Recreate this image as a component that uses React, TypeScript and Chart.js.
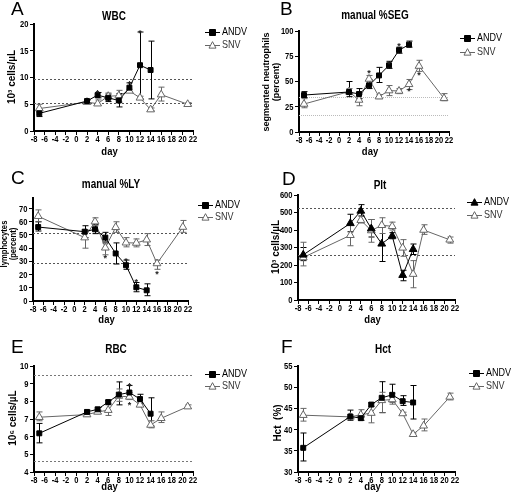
import { useEffect, useRef } from "react";
import { Chart, registerables } from "chart.js";
Chart.register(...registerables);

// ---------- shared ----------
const ANDV_DAYS = [-7, 2, 4, 6, 8, 10, 12, 14];
const SNV_DAYS = [-7, 2, 4, 6, 8, 10, 12, 14, 16, 21];
const X_TICKS = [-8, -6, -4, -2, 0, 2, 4, 6, 8, 10, 12, 14, 16, 18, 20, 22];

// ---------- A: WBC ----------
const WBC_Y_TICKS = [0, 5, 10, 15, 20];
const WBC_ANDV = [3.3, 5.6, 6.7, 6.2, 5.7, 8.1, 12.3, 11.4];
const WBC_ANDV_LO = [2.7, 5.3, 6.2, 5.5, 4.5, 7.3, 6.0, 6.0];
const WBC_ANDV_HI = [3.9, 5.9, 7.2, 6.9, 7.0, 9.0, 18.5, 16.8];
const WBC_SNV = [4.2, 5.4, 5.1, 6.5, 6.6, 7.5, 6.2, 4.0, 6.8, 5.0];
const WBC_SNV_LO = [3.5, 5.2, 4.8, 5.9, 5.4, 7.2, 6.0, 3.8, 5.6, 4.8];
const WBC_SNV_HI = [5.0, 5.7, 5.8, 7.1, 7.6, 7.8, 6.5, 4.3, 8.2, 5.3];
const WBC_REF = [9.7, 5.2];
const WBC_STARS = [[4, 7.4], [10, 9.1], [12, 18.6]];

// ---------- B: manual %SEG ----------
const SEG_Y_TICKS = [0, 25, 50, 75, 100];
const SEG_ANDV = [36.6, 39.6, 37.6, 46.2, 56, 66, 81, 86.5];
const SEG_ANDV_LO = [34, 35, 33, 43, 49, 63, 78, 84];
const SEG_ANDV_HI = [40, 50, 43, 52, 64, 70, 84, 90];
const SEG_SNV = [27.7, 40, 31.7, 52.5, 35, 41, 40.6, 47.2, 65.3, 33.3];
const SEG_SNV_LO = [24, 37, 26, 48, 33, 36, 38, 42, 60, 31];
const SEG_SNV_HI = [33, 43, 37, 56, 37, 46, 43, 52, 71, 38];
const SEG_REF = [34.6, 16.5];
const SEG_STARS = [[6, 59.5], [10, 68.5], [12, 87], [14, 42], [16, 57.5]];

// ---------- C: manual %LY ----------
const LY_Y_TICKS = [0, 10, 20, 30, 40, 50, 60, 70];
const LY_ANDV = [56, 52.5, 54.3, 48, 36, 27.1, 10.4, 8.1];
const LY_ANDV_LO = [53, 48, 51, 44, 28, 24, 7, 4];
const LY_ANDV_HI = [60, 57, 58, 52, 44, 31, 14, 13];
const LY_SNV = [64.2, 48, 60.1, 40.3, 55.8, 44.1, 43.9, 46.4, 28.4, 56];
const LY_SNV_LO = [60, 40, 57, 35, 52, 41, 41, 42, 24, 52];
const LY_SNV_HI = [69, 54, 63, 45, 60, 48, 47, 51, 31, 61];
const LY_REF = [51.5, 28.7];
const LY_STARS = [[6, 33.5], [10, 31.5], [12, 15.5], [16, 21.5]];

// ---------- D: Plt ----------
const PLT_Y_TICKS = [0, 100, 200, 300, 400, 500, 600];
const PLT_ANDV = [258, 438, 509, 408, 321, 366, 142, 290];
const PLT_ANDV_LO = [225, 390, 480, 360, 220, 350, 110, 260];
const PLT_ANDV_HI = [300, 490, 545, 460, 420, 385, 170, 320];
const PLT_SNV = [243, 370, 456, 397, 427, 421, 298, 148, 400, 344];
const PLT_SNV_LO = [195, 310, 440, 330, 380, 400, 250, 70, 375, 325];
const PLT_SNV_HI = [330, 430, 480, 460, 470, 445, 345, 225, 430, 360];
const PLT_REF = [524, 258];
const PLT_STARS: number[][] = [];

// ---------- E: RBC ----------
const RBC_Y_TICKS = [4, 5, 6, 7, 8, 9, 10];
const RBC_ANDV = [6.19, 7.4, 7.55, 7.96, 8.38, 8.5, 8.13, 7.3];
const RBC_ANDV_LO = [5.65, 7.3, 7.45, 7.85, 7.8, 8.2, 7.9, 6.6];
const RBC_ANDV_HI = [6.75, 7.5, 7.65, 8.05, 9.1, 8.9, 8.4, 8.2];
const RBC_SNV = [7.1, 7.25, 7.4, 7.5, 8.3, 8.25, 7.8, 6.66, 7.04, 7.7];
const RBC_SNV_LO = [6.9, 7.15, 7.3, 7.2, 8.0, 8.1, 7.7, 6.5, 6.8, 7.6];
const RBC_SNV_HI = [7.4, 7.35, 7.5, 7.8, 8.7, 8.5, 7.9, 6.9, 7.4, 7.8];
const RBC_REF = [9.47, 4.65];
const RBC_STARS = [[10, 8.95], [10, 7.85]];

// ---------- F: Hct ----------
const HCT_Y_TICKS = [30, 35, 40, 45, 50, 55];
const HCT_ANDV = [35.7, 43.1, 42.7, 45.9, 47.5, 48.2, 46.7, 46.4];
const HCT_ANDV_LO = [32.6, 42.2, 42.2, 45.5, 44, 46.5, 45.7, 42.5];
const HCT_ANDV_HI = [39.2, 44.6, 43.2, 46.3, 51.3, 50.7, 48, 50.4];
const HCT_SNV = [43.4, 43.0, 43.5, 43.9, 46.9, 47.1, 43.8, 38.9, 40.9, 47.7];
const HCT_SNV_LO = [42, 42.6, 42.8, 41.6, 44, 46, 43.5, 38.6, 39.7, 47];
const HCT_SNV_HI = [45, 43.4, 44.7, 46.3, 48.8, 48.6, 44.1, 39.2, 42.5, 48.6];
const HCT_REF: number[] = [];
const HCT_STARS: number[][] = [];

const FONT = "'Liberation Sans', Arial, Helvetica, sans-serif";
const SNV_COLOR = "#666666";

type PanelCfg = {
  left: number; top: number; w: number; h: number;
  area: { l: number; r: number; t: number; b: number };
  yMax: number;
  letter: string; letterX: number; letterY: number;
  title: string; titleX: number; titleY: number;
  yTitle: string[]; yTitleX: number[]; yTitleY: number; yTitleSize: number; yTitleScale: number;
  dayY: number;
  legX: number; legY: number[];
  yTicks: number[];
  andv: number[]; andvLo: number[]; andvHi: number[];
  snv: number[]; snvLo: number[]; snvHi: number[];
  refs: number[]; refColor: string; refDash: number[];
  stars: number[][];
  andvStyle: string;
};

const PANELS: PanelCfg[] = [
  {
    left: 0, top: 0, w: 256, h: 165, area: { l: 34, r: 193, t: 24, b: 131 }, yMax: 20,
    letter: "A", letterX: 11, letterY: 15, title: "WBC", titleX: 114, titleY: 17,
    yTitle: ["10\u00B3 cells/\u00B5L"], yTitleX: [12], yTitleY: 77, yTitleSize: 10, yTitleScale: 1,
    dayY: 152, legX: 205, legY: [32, 45], yTicks: WBC_Y_TICKS,
    andv: WBC_ANDV, andvLo: WBC_ANDV_LO, andvHi: WBC_ANDV_HI,
    snv: WBC_SNV, snvLo: WBC_SNV_LO, snvHi: WBC_SNV_HI,
    refs: WBC_REF, refColor: "#555", refDash: [2, 2], stars: WBC_STARS, andvStyle: "rect",
  },
  {
    left: 256, top: 0, w: 256, h: 165, area: { l: 43, r: 193, t: 31, b: 132 }, yMax: 100,
    letter: "B", letterX: 24, letterY: 15, title: "manual %SEG", titleX: 119, titleY: 16,
    yTitle: ["segmented neutrophils", "(percent)"], yTitleX: [11, 21], yTitleY: 82, yTitleSize: 9, yTitleScale: 1,
    dayY: 152, legX: 204, legY: [38, 52], yTicks: SEG_Y_TICKS,
    andv: SEG_ANDV, andvLo: SEG_ANDV_LO, andvHi: SEG_ANDV_HI,
    snv: SEG_SNV, snvLo: SEG_SNV_LO, snvHi: SEG_SNV_HI,
    refs: SEG_REF, refColor: "#bbb", refDash: [1, 1], stars: SEG_STARS, andvStyle: "rect",
  },
  {
    left: 0, top: 165, w: 256, h: 165, area: { l: 33, r: 188, t: 33, b: 136 }, yMax: 78,
    letter: "C", letterX: 11, letterY: 19, title: "manual %LY", titleX: 111, titleY: 20,
    yTitle: ["lymphocytes", "(percent)"], yTitleX: [4.5, 13.5], yTitleY: 79, yTitleSize: 8.5, yTitleScale: 0.9,
    dayY: 155, legX: 198, legY: [40, 52], yTicks: LY_Y_TICKS,
    andv: LY_ANDV, andvLo: LY_ANDV_LO, andvHi: LY_ANDV_HI,
    snv: LY_SNV, snvLo: LY_SNV_LO, snvHi: LY_SNV_HI,
    refs: LY_REF, refColor: "#555", refDash: [2, 2], stars: LY_STARS, andvStyle: "rect",
  },
  {
    left: 256, top: 165, w: 256, h: 165, area: { l: 42, r: 199, t: 30, b: 135 }, yMax: 600,
    letter: "D", letterX: 26, letterY: 20, title: "Plt", titleX: 124, titleY: 21,
    yTitle: ["10\u00B3 cells/\u00B5L"], yTitleX: [20], yTitleY: 82, yTitleSize: 10, yTitleScale: 1,
    dayY: 155, legX: 211, legY: [37, 50], yTicks: PLT_Y_TICKS,
    andv: PLT_ANDV, andvLo: PLT_ANDV_LO, andvHi: PLT_ANDV_HI,
    snv: PLT_SNV, snvLo: PLT_SNV_LO, snvHi: PLT_SNV_HI,
    refs: PLT_REF, refColor: "#555", refDash: [2, 2], stars: PLT_STARS, andvStyle: "triangle",
  },
  {
    left: 0, top: 330, w: 256, h: 168, area: { l: 34, r: 193, t: 36, b: 142 }, yMax: 10,
    letter: "E", letterX: 11, letterY: 23, title: "RBC", titleX: 116, titleY: 20,
    yTitle: ["10\u2076 cells/\u00B5L"], yTitleX: [13], yTitleY: 88, yTitleSize: 10, yTitleScale: 1,
    dayY: 157, legX: 205, legY: [44, 56], yTicks: RBC_Y_TICKS,
    andv: RBC_ANDV, andvLo: RBC_ANDV_LO, andvHi: RBC_ANDV_HI,
    snv: RBC_SNV, snvLo: RBC_SNV_LO, snvHi: RBC_SNV_HI,
    refs: RBC_REF, refColor: "#777", refDash: [2, 2], stars: RBC_STARS, andvStyle: "rect",
  },
  {
    left: 256, top: 330, w: 256, h: 168, area: { l: 42, r: 199, t: 36, b: 142 }, yMax: 55,
    letter: "F", letterX: 25, letterY: 23, title: "Hct", titleX: 127, titleY: 20,
    yTitle: ["Hct  (%)"], yTitleX: [22], yTitleY: 93, yTitleSize: 10, yTitleScale: 1,
    dayY: 157, legX: 213, legY: [43, 56], yTicks: HCT_Y_TICKS,
    andv: HCT_ANDV, andvLo: HCT_ANDV_LO, andvHi: HCT_ANDV_HI,
    snv: HCT_SNV, snvLo: HCT_SNV_LO, snvHi: HCT_SNV_HI,
    refs: HCT_REF, refColor: "#555", refDash: [2, 2], stars: HCT_STARS, andvStyle: "rect",
  },
];

function drawMarker(ctx: CanvasRenderingContext2D, style: string, x: number, y: number, r: number, fill: string, stroke: string) {
  ctx.save();
  ctx.beginPath();
  if (style === "rect") {
    ctx.rect(x - r, y - r, 2 * r, 2 * r);
  } else {
    ctx.moveTo(x, y - r * 1.1);
    ctx.lineTo(x + r, y + r * 0.75);
    ctx.lineTo(x - r, y + r * 0.75);
    ctx.closePath();
  }
  ctx.fillStyle = fill;
  ctx.fill();
  ctx.lineWidth = 1;
  ctx.strokeStyle = stroke;
  ctx.stroke();
  ctx.restore();
}

// text squeezed along its own direction (the reference uses a condensed face)
function squeezed(ctx: CanvasRenderingContext2D, text: string, x: number, y: number, font: string,
  align: CanvasTextAlign, sx: number, rot = 0) {
  ctx.save();
  ctx.translate(x, y);
  if (rot) ctx.rotate(rot);
  ctx.scale(sx, 1);
  ctx.font = font;
  ctx.textAlign = align;
  ctx.textBaseline = "middle";
  ctx.fillText(text, 0, 0);
  ctx.restore();
}

const panelPlugin = {
  id: "panel",
  beforeDatasetsDraw(chart: any, _args: any, opts: any) {
    const ctx: CanvasRenderingContext2D = chart.ctx;
    const xs = chart.scales.x, ys = chart.scales.y;
    const ca = chart.chartArea;
    ctx.save();
    ctx.setLineDash(opts.refDash);
    ctx.strokeStyle = opts.refColor;
    ctx.lineWidth = 1;
    for (const v of opts.refs) {
      const py = Math.round(ys.getPixelForValue(v)) + 0.5;
      ctx.beginPath();
      ctx.moveTo(ca.left, py);
      ctx.lineTo(ca.right, py);
      ctx.stroke();
    }
    ctx.restore();
    chart.data.datasets.forEach((ds: any) => {
      ctx.save();
      ctx.strokeStyle = ds.borderColor;
      ctx.lineWidth = 1;
      ds.data.forEach((p: any, i: number) => {
        const px = Math.round(xs.getPixelForValue(p.x)) + 0.5;
        const lo = ys.getPixelForValue(ds.errLo[i]);
        const hi = ys.getPixelForValue(ds.errHi[i]);
        ctx.beginPath();
        ctx.moveTo(px, lo); ctx.lineTo(px, hi);
        ctx.moveTo(px - 3, lo); ctx.lineTo(px + 3, lo);
        ctx.moveTo(px - 3, hi); ctx.lineTo(px + 3, hi);
        ctx.stroke();
      });
      ctx.restore();
    });
  },
  afterDraw(chart: any, _args: any, opts: any) {
    const ctx: CanvasRenderingContext2D = chart.ctx;
    const xs = chart.scales.x, ys = chart.scales.y;
    const ca = chart.chartArea;
    ctx.save();
    ctx.fillStyle = "#000";
    // tick labels
    const tickFont = `bold 9px ${FONT}`;
    for (const t of xs.ticks) {
      squeezed(ctx, String(t.value), xs.getPixelForValue(t.value), ca.bottom + 9, tickFont, "center", 0.84);
    }
    for (const t of ys.ticks) {
      squeezed(ctx, String(t.value), ca.left - 5.5, ys.getPixelForValue(t.value) + 0.5, tickFont, "right", 0.84);
    }
    // asterisks
    ctx.fillStyle = "#222";
    ctx.font = `bold 9px ${FONT}`;
    ctx.textAlign = "center";
    ctx.textBaseline = "middle";
    for (const s of opts.stars) {
      ctx.fillText("*", xs.getPixelForValue(s[0]), ys.getPixelForValue(s[1]) + 2);
    }
    // panel letter
    ctx.fillStyle = "#000";
    ctx.textAlign = "left";
    ctx.textBaseline = "alphabetic";
    ctx.font = `19px ${FONT}`;
    ctx.fillText(opts.letter, opts.letterX, opts.letterY);
    // titles
    squeezed(ctx, opts.title, opts.titleX, opts.titleY, `bold 12px ${FONT}`, "center", 0.83);
    squeezed(ctx, "day", (ca.left + ca.right) / 2 - 4, opts.dayY, `bold 11px ${FONT}`, "center", 0.86);
    opts.yTitle.forEach((t: string, i: number) => {
      squeezed(ctx, t, opts.yTitleX[i], opts.yTitleY, `bold ${opts.yTitleSize}px ${FONT}`, "center",
        opts.yTitleScale, -Math.PI / 2);
    });
    // legend
    chart.data.datasets.forEach((ds: any, i: number) => {
      const y = opts.legY[i] + 0.5;
      ctx.strokeStyle = ds.borderColor;
      ctx.lineWidth = 1;
      ctx.beginPath();
      ctx.moveTo(opts.legX, y);
      ctx.lineTo(opts.legX + 15, y);
      ctx.stroke();
      drawMarker(ctx, ds.pointStyle, opts.legX + 7.5, y, ds.pointStyle === "rect" ? 3 : 3.5,
        ds.pointBackgroundColor, ds.borderColor);
      ctx.fillStyle = ds.borderColor === "#000000" ? "#000" : "#333";
      squeezed(ctx, ds.label, opts.legX + 17, y, `10.5px ${FONT}`, "left", 0.86);
    });
    ctx.restore();
  },
};

function Panel({ cfg }: { cfg: PanelCfg }) {
  const ref = useRef<HTMLCanvasElement>(null);
  useEffect(() => {
    const a = cfg.area;
    const chart = new Chart(ref.current as HTMLCanvasElement, {
      type: "line",
      data: {
        datasets: [
          {
            label: "ANDV",
            data: ANDV_DAYS.map((d, i) => ({ x: d, y: cfg.andv[i] })),
            errLo: cfg.andvLo, errHi: cfg.andvHi,
            borderColor: "#000000", backgroundColor: "#000000",
            pointBackgroundColor: "#000000", pointBorderColor: "#000000",
            pointStyle: cfg.andvStyle, pointRadius: cfg.andvStyle === "rect" ? 3.5 : 4.5,
            borderWidth: 1, pointBorderWidth: 1, tension: 0,
          } as any,
          {
            label: "SNV",
            data: SNV_DAYS.map((d, i) => ({ x: d, y: cfg.snv[i] })),
            errLo: cfg.snvLo, errHi: cfg.snvHi,
            borderColor: SNV_COLOR, backgroundColor: "#ffffff",
            pointBackgroundColor: "#ffffff", pointBorderColor: SNV_COLOR,
            pointStyle: "triangle", pointRadius: 4.5,
            borderWidth: 1, pointBorderWidth: 1, tension: 0,
          } as any,
        ],
      },
      options: {
        animation: false,
        responsive: false,
        events: [],
        layout: { padding: { left: 0, right: cfg.w - a.r, top: a.t, bottom: 0 } },
        scales: {
          x: {
            type: "linear", min: -8, max: 22,
            afterBuildTicks: (s: any) => { s.ticks = X_TICKS.map((v) => ({ value: v })); },
            afterFit: (s: any) => { s.height = cfg.h - a.b; },
            ticks: { display: false },
            grid: { drawOnChartArea: false, drawTicks: true, tickLength: 4, color: "#000", lineWidth: 1 },
            border: { color: "#000", width: 2 },
          },
          y: {
            type: "linear", min: cfg.yTicks[0], max: cfg.yMax,
            afterBuildTicks: (s: any) => { s.ticks = cfg.yTicks.map((v) => ({ value: v })); },
            afterFit: (s: any) => { s.width = a.l; },
            ticks: { display: false },
            grid: { drawOnChartArea: false, drawTicks: true, tickLength: 4, color: "#000", lineWidth: 1 },
            border: { color: "#000", width: 2 },
          },
        },
        plugins: {
          legend: { display: false },
          tooltip: { enabled: false },
          panel: {
            refs: cfg.refs, refColor: cfg.refColor, refDash: cfg.refDash, stars: cfg.stars,
            letter: cfg.letter, letterX: cfg.letterX, letterY: cfg.letterY,
            title: cfg.title, titleX: cfg.titleX, titleY: cfg.titleY,
            yTitle: cfg.yTitle, yTitleX: cfg.yTitleX, yTitleY: cfg.yTitleY,
            yTitleSize: cfg.yTitleSize, yTitleScale: cfg.yTitleScale,
            dayY: cfg.dayY, legX: cfg.legX, legY: cfg.legY,
          },
        } as any,
      },
      plugins: [panelPlugin],
    });
    return () => chart.destroy();
  }, []);
  return (
    <canvas
      ref={ref}
      width={cfg.w}
      height={cfg.h}
      style={{ position: "absolute", left: cfg.left, top: cfg.top, width: cfg.w, height: cfg.h }}
    />
  );
}

export default function App() {
  return (
    <div style={{ position: "absolute", left: 0, top: 0, width: 512, height: 498, background: "#fff" }}>
      {PANELS.map((p, i) => (
        <Panel key={i} cfg={p} />
      ))}
    </div>
  );
}
